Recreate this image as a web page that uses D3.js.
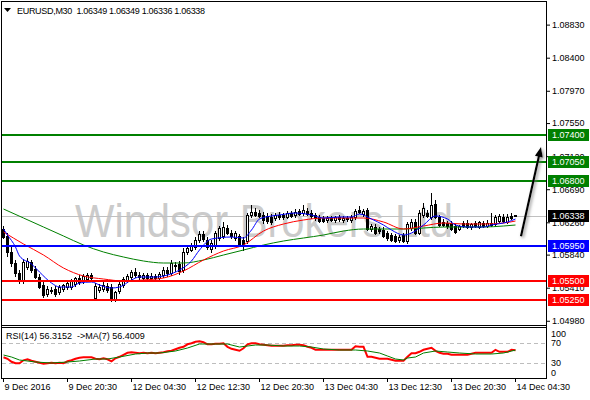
<!DOCTYPE html>
<html><head><meta charset="utf-8">
<script src="https://cdn.jsdelivr.net/npm/d3@7"></script>
<style>html,body{margin:0;padding:0;background:#fff;}svg{display:block;font-family:"Liberation Sans",Arial,sans-serif;}</style>
</head><body><svg id="c" width="590" height="400"></svg>
<script>
// ---------- DATA ----------
const symbolTitle = "EURUSD,M30";
const lastOHLC = [1.06349, 1.06349, 1.06336, 1.06338];
const timeLabels = ["9 Dec 2016","9 Dec 20:30","12 Dec 04:30","12 Dec 12:30","12 Dec 20:30","13 Dec 04:30","13 Dec 12:30","13 Dec 20:30","14 Dec 04:30"];
const timeLabelBars = [0,16,32,48,64,80,96,112,128];
const priceTicks = [1.08830,1.08400,1.07970,1.07550,1.07120,1.06690,1.06260,1.05840,1.05410,1.04980];
const levelPrices = [1.07400,1.07050,1.06800,1.05950,1.05500,1.05250];
const levelKinds = ["resistance","resistance","resistance","pivot","support","support"];
const currentPrice = 1.06338;
const rsiTicks = [100,70,30,0];
const rsiLevels = [70,30];
const rsiTitle = "RSI(14) 56.3152  ->MA(7) 56.4009";
const watermark = "Windsor Brokers Ltd";
const arrowBars = [129.5,134.5];
const arrowPrices = [1.0608,1.0724];

const open = [
1.06173,1.06082,1.05874,1.05731,1.05601,1.05497,1.05679,1.05744,1.05653,1.05549,
1.05445,1.05328,1.05367,1.05393,1.05354,1.05393,1.05419,1.05419,1.05458,1.05536,
1.05497,1.05523,1.05575,1.05276,1.05380,1.05393,1.05432,1.05419,1.05263,1.05367,
1.05445,1.05510,1.05549,1.05614,1.05575,1.05536,1.05575,1.05536,1.05562,1.05536,
1.05575,1.05640,1.05601,1.05692,1.05718,1.05640,1.05874,1.05900,1.05939,1.06030,
1.06108,1.06030,1.05913,1.05952,1.06056,1.06082,1.06186,1.06121,1.06056,1.06082,
1.06030,1.06017,1.06355,1.06394,1.06381,1.06355,1.06342,1.06329,1.06316,1.06355,
1.06355,1.06329,1.06381,1.06355,1.06407,1.06381,1.06407,1.06381,1.06355,1.06329,
1.06316,1.06290,1.06316,1.06290,1.06329,1.06290,1.06316,1.06290,1.06329,1.06420,
1.06368,1.06420,1.06173,1.06199,1.06173,1.06160,1.06121,1.06095,1.06082,1.06030,
1.06095,1.06017,1.06186,1.06264,1.06121,1.06355,1.06381,1.06329,1.06498,1.06329,
1.06264,1.06251,1.06251,1.06212,1.06173,1.06251,1.06251,1.06199,1.06251,1.06199,
1.06251,1.06212,1.06251,1.06238,1.06277,1.06329,1.06264,1.06342,1.06349];
const high = [
1.06212,1.06121,1.05952,1.05770,1.05640,1.05783,1.05796,1.05770,1.05692,1.05588,
1.05484,1.05432,1.05419,1.05432,1.05445,1.05458,1.05497,1.05523,1.05549,1.05575,
1.05588,1.05601,1.05601,1.05471,1.05458,1.05484,1.05471,1.05458,1.05367,1.05484,
1.05549,1.05588,1.05640,1.05666,1.05614,1.05601,1.05601,1.05601,1.05588,1.05614,
1.05679,1.05679,1.05770,1.05744,1.05757,1.05926,1.05965,1.05991,1.06069,1.06147,
1.06147,1.06069,1.06030,1.06147,1.06212,1.06264,1.06225,1.06160,1.06147,1.06108,
1.06069,1.06381,1.06485,1.06446,1.06420,1.06394,1.06381,1.06368,1.06381,1.06394,
1.06381,1.06407,1.06407,1.06433,1.06433,1.06485,1.06446,1.06420,1.06381,1.06355,
1.06342,1.06342,1.06342,1.06342,1.06355,1.06342,1.06342,1.06355,1.06433,1.06472,
1.06433,1.06446,1.06238,1.06238,1.06199,1.06199,1.06147,1.06121,1.06108,1.06095,
1.06121,1.06264,1.06303,1.06303,1.06420,1.06511,1.06420,1.06641,1.06550,1.06355,
1.06303,1.06277,1.06277,1.06238,1.06225,1.06277,1.06290,1.06251,1.06277,1.06277,
1.06277,1.06290,1.06381,1.06355,1.06368,1.06368,1.06368,1.06381,1.06349];
const low = [
1.06056,1.05822,1.05692,1.05562,1.05471,1.05471,1.05653,1.05614,1.05536,1.05406,
1.05289,1.05302,1.05341,1.05302,1.05328,1.05367,1.05393,1.05393,1.05432,1.05458,
1.05471,1.05497,1.05510,1.05263,1.05354,1.05367,1.05354,1.05237,1.05237,1.05341,
1.05419,1.05484,1.05523,1.05549,1.05523,1.05510,1.05510,1.05510,1.05510,1.05510,
1.05549,1.05562,1.05575,1.05627,1.05588,1.05614,1.05848,1.05887,1.05913,1.06004,
1.06017,1.05913,1.05874,1.05926,1.06030,1.06056,1.06108,1.06056,1.06030,1.05952,
1.05900,1.05991,1.06329,1.06342,1.06329,1.06251,1.06251,1.06238,1.06290,1.06303,
1.06303,1.06316,1.06329,1.06329,1.06355,1.06355,1.06355,1.06316,1.06290,1.06264,
1.06264,1.06264,1.06277,1.06264,1.06277,1.06264,1.06277,1.06264,1.06303,1.06381,
1.06342,1.06160,1.06147,1.06108,1.06121,1.06069,1.06030,1.06017,1.06004,1.06004,
1.06004,1.05991,1.06160,1.06108,1.06108,1.06329,1.06329,1.06303,1.06316,1.06212,
1.06212,1.06186,1.06160,1.06121,1.06160,1.06199,1.06186,1.06173,1.06199,1.06186,
1.06199,1.06199,1.06212,1.06212,1.06264,1.06264,1.06251,1.06303,1.06336];
const close = [
1.06069,1.05874,1.05731,1.05601,1.05497,1.05744,1.05757,1.05640,1.05549,1.05419,
1.05315,1.05393,1.05380,1.05328,1.05419,1.05445,1.05471,1.05497,1.05536,1.05484,
1.05562,1.05575,1.05536,1.05432,1.05419,1.05445,1.05380,1.05276,1.05354,1.05458,
1.05523,1.05562,1.05614,1.05575,1.05549,1.05575,1.05536,1.05562,1.05536,1.05588,
1.05640,1.05601,1.05731,1.05705,1.05627,1.05874,1.05926,1.05965,1.06030,1.06108,
1.06043,1.05939,1.05991,1.06121,1.06186,1.06199,1.06121,1.06082,1.06121,1.05978,
1.05965,1.06355,1.06394,1.06355,1.06342,1.06290,1.06277,1.06264,1.06355,1.06329,
1.06329,1.06381,1.06342,1.06394,1.06368,1.06420,1.06368,1.06342,1.06316,1.06277,
1.06277,1.06316,1.06290,1.06329,1.06303,1.06316,1.06303,1.06329,1.06407,1.06394,
1.06407,1.06173,1.06212,1.06121,1.06147,1.06082,1.06056,1.06030,1.06017,1.06069,
1.06017,1.06238,1.06264,1.06121,1.06381,1.06446,1.06342,1.06485,1.06329,1.06225,
1.06225,1.06212,1.06173,1.06134,1.06212,1.06212,1.06199,1.06238,1.06212,1.06264,
1.06212,1.06251,1.06225,1.06329,1.06342,1.06277,1.06329,1.06316,1.06338];

// moving averages (bar index, price)
const maFastBars = [0,1,3,4,7,9,12,14,17,19,22,24,27,29,32,34,38,41,44,47,49,52,57,60,62,64,67,69,73,77,80,84,87,89,92,95,97,100,102,105,108,111,113,116,120,122,126,128];
const maFastVals = [1.06173,1.06095,1.05939,1.05822,1.05718,1.05614,1.05471,1.05419,1.05419,1.05471,
1.05484,1.05445,1.05406,1.05419,1.05510,1.05549,1.05549,1.05575,1.05640,1.05757,
1.05900,1.06043,1.06069,1.06056,1.06160,1.06303,1.06342,1.06355,1.06381,1.06355,
1.06316,1.06329,1.06329,1.06368,1.06303,1.06225,1.06160,1.06095,1.06121,1.06225,
1.06342,1.06303,1.06225,1.06199,1.06199,1.06225,1.06264,1.06303];
const maMidBars = [0,5,10,15,20,25,30,35,40,45,50,55,60,65,70,75,80,85,90,95,100,105,110,115,120,125,128];
const maMidVals = [1.06134,1.05978,1.05835,1.05666,1.05562,1.05523,1.05497,1.05510,1.05536,1.05627,
1.05770,1.05887,1.05965,1.06147,1.06238,1.06290,1.06316,1.06316,1.06316,1.06264,
1.06173,1.06212,1.06251,1.06238,1.06238,1.06251,1.06277];
const maSlowBars = [0,5,10,15,20,25,30,35,40,45,50,55,60,65,70,75,80,85,90,95,100,105,110,115,120,125,128];
const maSlowVals = [1.06433,1.06316,1.06199,1.06082,1.05965,1.05874,1.05809,1.05757,1.05731,1.05731,
1.05770,1.05835,1.05900,1.05965,1.06017,1.06056,1.06095,1.06147,1.06173,1.06173,
1.06173,1.06186,1.06199,1.06199,1.06199,1.06212,1.06225];

const rsiVals = [
42,39,33,30,30,36,38,35,33,31,
29,30,31,30,31,30,34,36,39,41,
42,42,42,39,38,40,38,34,40,43,
47,51,52,51,50,51,50,51,50,51,
52,54,55,58,61,63,68,70,73,74,
72,68,68,69,69,70,63,59,57,55,
60,68,70,70,68,67,66,65,65,65,
65,66,66,67,67,66,63,61,57,57,
57,57,57,57,57,57,57,57,64,63,
63,43,43,41,39,39,39,37,35,35,
35,43,50,50,53,57,59,61,55,51,
49,49,47,47,47,47,47,49,51,51,
51,51,51,57,53,53,53,57,56.3152];
const rsiMaBars = [0,2,4,8,12,16,19,23,26,29,33,36,39,43,46,49,53,56,59,63,66,70,74,77,80,84,88,91,94,96,98,100,101,103,105,108,111,114,118,122,125,128];
const rsiMaVals = [46.6,42.6,36.6,32.6,30.6,32.6,34.6,38.6,38.6,42.6,48.6,50.6,50.6,54.6,60.6,68.6,68.6,68.6,62.6,66.6,
66.6,64.6,64.6,62.6,58.6,56.6,56.6,54.6,50.6,44.6,38.6,36.6,40.6,42.6,50.6,54.6,52.6,50.6,48.6,48.6,50.6,56.4009];

// ---------- LAYOUT ----------
const svg = d3.select("#c");
const axisX = 547, mainTop = 2, mainBot = 325, rsiTop = 327, rsiBot = 378;
const fontSize = 9;
const kindColor = {resistance:"#008000", pivot:"#0000ff", support:"#ff0000"};

const x = d3.scaleLinear().domain([0,128]).range([3,515]);
const y = d3.scaleLinear().domain([1.04925,1.09124]).range([mainBot,mainTop]);
const yr = d3.scaleLinear().domain([0,100]).range([378.3,328.3]);

svg.append("rect").attr("width",590).attr("height",400).attr("fill","#fff");

const defs = svg.append("defs");
defs.append("clipPath").attr("id","cm").append("rect").attr("x",2).attr("y",2).attr("width",axisX-2).attr("height",mainBot-2);
defs.append("clipPath").attr("id","cr").append("rect").attr("x",2).attr("y",rsiTop+1).attr("width",axisX-2).attr("height",rsiBot-rsiTop-1);
const f = defs.append("filter").attr("id","sh").attr("x","-50%").attr("y","-50%").attr("width","200%").attr("height","200%");
f.append("feDropShadow").attr("dx",1.5).attr("dy",1.5).attr("stdDeviation",1.8).attr("flood-color","#777").attr("flood-opacity",0.8);

const main = svg.append("g").attr("clip-path","url(#cm)");

// watermark
main.append("text").attr("x",75).attr("y",237).text(watermark)
  .attr("font-size",46).attr("fill","#cbcbcb")
  .attr("textLength",378).attr("lengthAdjust","spacingAndGlyphs");

// current price line
main.append("line").attr("x1",2).attr("x2",axisX).attr("y1",Math.round(y(currentPrice))+0.5).attr("y2",Math.round(y(currentPrice))+0.5)
  .attr("stroke","#c0c0c0").attr("stroke-width",1);

// candles
const bars = d3.range(close.length);
const gc = main.append("g").attr("shape-rendering","crispEdges");
gc.selectAll("line").data(bars).join("line")
  .attr("x1",i=>Math.round(x(i))+0.5).attr("x2",i=>Math.round(x(i))+0.5)
  .attr("y1",i=>Math.round(y(high[i]))).attr("y2",i=>Math.round(y(low[i]))+1)
  .attr("stroke","#000");
gc.selectAll("path").data(bars).join("path")
  .attr("d",i=>{
    const t = Math.round(y(Math.max(open[i],close[i])))+0.5;
    const b = Math.round(y(Math.min(open[i],close[i])))+0.5;
    const l = Math.round(x(i))-0.5;
    return `M${l},${t}h2V${b}h-2Z`;
  })
  .attr("fill",i=>close[i]>=open[i]?"#fff":"#000").attr("stroke","#000");

// moving averages
function maLine(bs, vs, color){
  const line = d3.line().x((d,k)=>x(bs[k])+0.5).y(d=>y(d)).curve(d3.curveMonotoneX);
  main.append("path").attr("d",line(vs)).attr("fill","none").attr("stroke",color).attr("stroke-width",1);
}
maLine(maSlowBars, maSlowVals, "#008000");
maLine(maMidBars, maMidVals, "#ff0000");
maLine(maFastBars, maFastVals, "#0000ff");

// level lines
levelPrices.forEach((p,k)=>{
  const yy = Math.round(y(p));
  main.append("line").attr("x1",2).attr("x2",axisX).attr("y1",yy).attr("y2",yy)
    .attr("stroke",kindColor[levelKinds[k]]).attr("stroke-width",2).attr("shape-rendering","crispEdges");
});

// arrow
{
  const x1 = x(arrowBars[0]), y1 = y(arrowPrices[0]), x2 = x(arrowBars[1]), y2 = y(arrowPrices[1]);
  const dx = x2-x1, dy = y2-y1, len = Math.hypot(dx,dy), ux = dx/len, uy = dy/len;
  const hl = 10, hw = 4;
  const bx = x2-ux*hl, by = y2-uy*hl;
  const g = svg.append("g").attr("filter","url(#sh)");
  g.append("line").attr("x1",x1).attr("y1",y1).attr("x2",bx+ux*2).attr("y2",by+uy*2)
    .attr("stroke","#000").attr("stroke-width",2.2);
  g.append("path").attr("d",`M${x2},${y2}L${bx-uy*hw},${by+ux*hw}L${bx+uy*hw},${by-ux*hw}Z`).attr("fill","#000");
}

// ---------- RSI panel ----------
const rg = svg.append("g").attr("clip-path","url(#cr)");
rsiLevels.forEach(v=>{
  rg.append("line").attr("x1",2).attr("x2",axisX).attr("y1",Math.round(yr(v))+0.5).attr("y2",Math.round(yr(v))+0.5)
    .attr("stroke","#bdbdbd").attr("stroke-dasharray","4,3");
});
rg.append("path").attr("d",d3.line().x((d,i)=>x(i)+0.5).y(d=>yr(d))(rsiVals))
  .attr("fill","none").attr("stroke","#ff0000").attr("stroke-width",2);
rg.append("path").attr("d",d3.line().x((d,k)=>x(rsiMaBars[k])+0.5).y(d=>yr(d))(rsiMaVals))
  .attr("fill","none").attr("stroke","#008000").attr("stroke-width",1);

// ---------- frames ----------
const fr = svg.append("g").attr("stroke","#000").attr("fill","none").attr("shape-rendering","crispEdges");
fr.append("line").attr("x1",1.5).attr("x2",1.5).attr("y1",1).attr("y2",rsiBot+1);
fr.append("line").attr("x1",1).attr("x2",axisX).attr("y1",1.5).attr("y2",1.5);
fr.append("line").attr("x1",1).attr("x2",axisX).attr("y1",mainBot+0.5).attr("y2",mainBot+0.5);
fr.append("line").attr("x1",1).attr("x2",axisX).attr("y1",rsiTop+0.5).attr("y2",rsiTop+0.5);
fr.append("line").attr("x1",1).attr("x2",axisX).attr("y1",rsiBot+0.5).attr("y2",rsiBot+0.5);
fr.append("line").attr("x1",axisX-0.5).attr("x2",axisX-0.5).attr("y1",1).attr("y2",rsiBot+1);

// ---------- axes ----------
const ra = svg.append("g").attr("transform",`translate(${axisX-1},0)`)
  .call(d3.axisRight(y).tickValues(priceTicks).tickFormat(d3.format(".5f")).tickSize(4).tickPadding(2));
ra.select(".domain").remove();
ra.selectAll("text").attr("font-size",fontSize).attr("font-family","Liberation Sans, Arial, sans-serif").attr("fill","#000");

const ba = svg.append("g").attr("transform",`translate(0,${rsiBot})`)
  .call(d3.axisBottom(x).tickValues(timeLabelBars).tickFormat((d,i)=>timeLabels[i]).tickSize(4).tickPadding(2));
ba.select(".domain").remove();
ba.selectAll("text").attr("text-anchor","start").attr("dx",1).attr("font-size",fontSize).attr("font-family","Liberation Sans, Arial, sans-serif").attr("fill","#000");

// RSI scale labels
svg.append("g").selectAll("text").data(rsiTicks).join("text")
  .attr("x",axisX+4).attr("y",d=>Math.min(Math.max(yr(d),334),373)).attr("dy","0.35em")
  .attr("font-size",fontSize).text(d=>d);

// level labels
function tag(p,color){
  const yy = Math.round(y(p));
  svg.append("rect").attr("x",axisX+1).attr("y",yy-6).attr("width",41).attr("height",12).attr("fill",color);
  svg.append("text").attr("x",axisX+5).attr("y",yy).attr("dy","0.35em").attr("font-size",fontSize).attr("fill","#fff").text(d3.format(".5f")(p));
}
levelPrices.forEach((p,k)=>tag(p,kindColor[levelKinds[k]]));
tag(currentPrice,"#000");

// titles
svg.append("path").attr("d","M4,8L11,8L7.5,12Z").attr("fill","#000");
svg.append("text").attr("x",17).attr("y",14).attr("font-size",fontSize).attr("letter-spacing",-0.3).style("white-space","pre")
  .text(symbolTitle+"  "+lastOHLC.map(d3.format(".5f")).join(" "));
svg.append("text").attr("x",6).attr("y",339).attr("font-size",fontSize).style("white-space","pre").text(rsiTitle);
</script></body></html>
